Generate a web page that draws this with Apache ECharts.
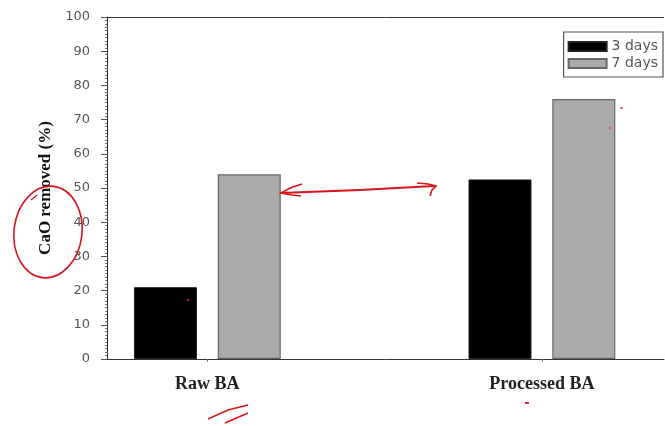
<!DOCTYPE html>
<html>
<head>
<meta charset="utf-8">
<script src="https://cdn.jsdelivr.net/npm/echarts@6/dist/echarts.min.js"></script>
<style>
  html, body { margin: 0; padding: 0; background: #fff; }
  #chart { width: 665px; height: 426px; }
</style>
</head>
<body>
<div id="chart"></div>
<script>
// Sample groups and their positions along the x axis
const categories = ['Raw BA', 'Processed BA'];
const categoryPos = [1, 2];
// CaO removed (%) after curing time
const days3 = [21, 52.5];
const days7 = [54, 76];
const seriesNames = ['3 days', '7 days'];
const yTicks = [0, 10, 20, 30, 40, 50, 60, 70, 80, 90, 100];

const chart = echarts.init(document.getElementById('chart'));

const toPairs = vals => vals.map((v, i) => [categoryPos[i], v]);
const red = '#d8141c';
const xMin = 0.7;
const xMax = 2.365;

// red pen markings drawn over the chart
const pen = (points, width) => ({
  type: 'polyline', z: 100,
  shape: { points },
  style: { fill: 'none', stroke: red, lineWidth: width }
});

chart.setOption({
  animation: false,
  backgroundColor: '#fff',
  grid: { left: 107, top: 17, right: 1, bottom: 67 },
  legend: {
    data: seriesNames,
    orient: 'vertical',
    right: 2,
    top: 32,
    itemWidth: 38,
    itemHeight: 9,
    itemGap: 0,
    padding: [6, 5, 5, 4],
    borderColor: '#555',
    borderWidth: 1.2,
    backgroundColor: '#fff',
    icon: 'rect',
    textStyle: { fontFamily: 'DejaVu Sans', fontSize: 14, lineHeight: 17, color: '#555' }
  },
  xAxis: {
    type: 'value',
    min: xMin,
    max: xMax,
    splitLine: { show: false },
    axisLine: { show: true, onZero: false, lineStyle: { color: '#333', width: 1 } },
    axisTick: { show: true, customValues: categoryPos, length: 3, lineStyle: { color: '#777' } },
    axisLabel: {
      customValues: categoryPos,
      formatter: v => categories[categoryPos.indexOf(v)] || '',
      margin: 16,
      fontFamily: 'Liberation Serif',
      fontWeight: 'bold',
      fontSize: 18,
      color: '#222'
    }
  },
  yAxis: {
    type: 'value',
    min: 0,
    max: 100,
    interval: 10,
    splitLine: { show: false },
    name: 'CaO removed (%)',
    nameLocation: 'middle',
    nameGap: 53,
    nameTextStyle: { fontFamily: 'Liberation Serif', fontWeight: 'bold', fontSize: 17, color: '#111' },
    axisLine: { show: true, onZero: false, lineStyle: { color: '#333', width: 1 } },
    axisTick: { show: true, length: 6, lineStyle: { color: '#555' } },
    minorTick: { show: true, splitNumber: 10, length: 2, lineStyle: { color: '#777' } },
    axisLabel: {
      margin: 17,
      fontFamily: 'DejaVu Sans',
      fontSize: 13,
      color: '#555',
      formatter: v => yTicks.includes(v) ? String(v) : ''
    }
  },
  series: [
    {
      name: seriesNames[0],
      type: 'bar',
      data: toPairs(days3),
      barWidth: 63,
      barGap: '33%',
      itemStyle: { color: '#000', borderColor: '#222', borderWidth: 1 },
      // top edge of the plot frame
      markLine: {
        silent: true,
        symbol: 'none',
        label: { show: false },
        lineStyle: { color: '#333', width: 1, type: 'solid' },
        data: [{ yAxis: 100 }]
      }
    },
    {
      name: seriesNames[1],
      type: 'bar',
      data: toPairs(days7),
      barWidth: 63,
      barGap: '33%',
      itemStyle: { color: '#aaaaaa', borderColor: '#666', borderWidth: 1.2 }
    }
  ],
  graphic: [
    {
      type: 'ellipse', z: 100,
      shape: { cx: 48, cy: 232, rx: 34, ry: 46 },
      rotation: -0.12,
      originX: 48, originY: 232,
      style: { fill: 'none', stroke: red, lineWidth: 1.6 }
    },
    pen([[31, 200], [37, 195]], 1.3),
    pen([[281, 193], [360, 190], [434, 186]], 1.8),
    pen([[302, 184], [290, 188], [281, 193], [292, 195], [301, 196]], 1.6),
    pen([[417, 183], [428, 184], [436, 186], [432, 190], [430, 196]], 1.6),
    pen([[208, 419], [228, 410], [248, 405]], 1.5),
    pen([[225, 423], [248, 413]], 1.5),
    pen([[525, 403], [529, 403]], 1.8),
    pen([[620, 108], [623, 108]], 1.2),
    { type: 'circle', z: 100, shape: { cx: 610, cy: 128, r: 1.2 }, style: { fill: '#e05060' } },
    { type: 'circle', z: 100, shape: { cx: 188, cy: 300, r: 1 }, style: { fill: '#c03040' } }
  ]
});
</script>
</body>
</html>
